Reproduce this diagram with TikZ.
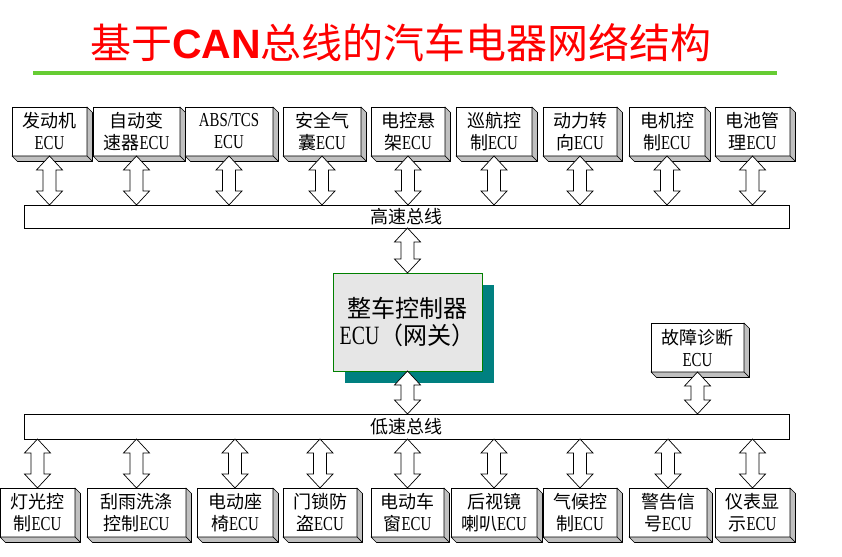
\documentclass[tikz,border=0pt]{standalone}
\usepackage{fontspec}
\setmainfont{Liberation Serif}[FakeStretch=0.75, Scale=1.1]
\newfontfamily\cjk{Noto Sans CJK SC}
\newfontfamily\titlelat{Liberation Sans}
\usetikzlibrary{calc}
\definecolor{bevelgray}{HTML}{C0C0C0}
\definecolor{titlered}{HTML}{FF0000}
\definecolor{rulegreen}{HTML}{66CC33}
\definecolor{cboxgreen}{HTML}{008000}
\definecolor{cboxfill}{HTML}{E6E6E6}
\definecolor{cboxshadow}{HTML}{008080}
\newcommand\zh[1]{{\cjk #1}}
\newcommand\mkbevel[1]{%
  \path[bevelface] (#1.north east) -- ++(5.5pt,-5.5pt) -- ($(#1.south east)+(5.5pt,-5.5pt)$) -- (#1.south east) -- cycle;
  \path[bevelface] (#1.south west) -- ($(#1.south west)+(5.5pt,-5.5pt)$) -- ($(#1.south east)+(5.5pt,-5.5pt)$) -- (#1.south east) -- cycle;}
\newcommand\mkdblarrow[2]{%
  \path[dbl] let \p1=(#1), \p2=(#2) in
  (\x1,\y1) -- (\x1+13pt,\y1-14pt) -- (\x1+6.5pt,\y1-14pt) -- (\x1+6.5pt,\y2+14pt) -- (\x1+13pt,\y2+14pt) -- (\x1,\y2)
  -- (\x1-13pt,\y2+14pt) -- (\x1-6.5pt,\y2+14pt) -- (\x1-6.5pt,\y1-14pt) -- (\x1-13pt,\y1-14pt) -- cycle;}
\begin{document}
\begin{tikzpicture}[x=1pt,y=-1pt,
  ecu/.style={draw=black, fill=white, line width=0.8pt, inner sep=0pt, outer sep=0pt,
    minimum height=49pt, align=center, font=\fontsize{18}{22}\selectfont},
  bus/.style={draw=black, fill=white, line width=0.8pt, inner sep=0pt, outer sep=0pt,
    minimum width=765pt, font=\fontsize{18}{22}\selectfont},
  bevelface/.style={draw=black, fill=bevelgray, line width=0.6pt, line join=round},
  dbl/.style={draw=black, fill=white, line width=0.7pt, line join=miter},
]
\useasboundingbox[fill=white] (0,0) rectangle (842,556);

% title
\node[text=titlered, font=\fontsize{41}{46}\selectfont, inner sep=0pt] (title) at (401,43)
  {\zh{基于}{\titlelat\bfseries CAN}\zh{总线的汽车电器网络结构}};
\draw[rulegreen, line width=4pt] (33,73) -- (777,73);

% buses
\node[bus, minimum height=23pt] (hbus) at (406.5,216.5) {\zh{高速总线}};
\node[bus, minimum height=25pt] (lbus) at (406.5,426.5) {\zh{低速总线}};

% top ECUs
\node[ecu, minimum width=75pt] (t1) at (49.5,131.5) {\zh{发动机}\\ECU};
\node[ecu, minimum width=87pt] (t2) at (136.5,131.5) {\zh{自动变}\\\zh{速器}ECU};
\node[ecu, minimum width=88pt] (t3) at (229,131.5) {ABS/TCS\\ECU};
\node[ecu, minimum width=78pt] (t4) at (322,131.5) {\zh{安全气}\\\zh{囊}ECU};
\node[ecu, minimum width=74pt] (t5) at (408,131.5) {\zh{电控悬}\\\zh{架}ECU};
\node[ecu, minimum width=76pt] (t6) at (494,131.5) {\zh{巡航控}\\\zh{制}ECU};
\node[ecu, minimum width=74pt] (t7) at (580,131.5) {\zh{动力转}\\\zh{向}ECU};
\node[ecu, minimum width=76pt] (t8) at (667,131.5) {\zh{电机控}\\\zh{制}ECU};
\node[ecu, minimum width=75pt] (t9) at (752.5,131.5) {\zh{电池管}\\\zh{理}ECU};

% bottom ECUs
\node[ecu, minimum width=75pt] (b1) at (37.5,512.5) {\zh{灯光控}\\\zh{制}ECU};
\node[ecu, minimum width=99pt] (b2) at (136.5,512.5) {\zh{刮雨洗涤}\\\zh{控制}ECU};
\node[ecu, minimum width=76pt] (b3) at (235,512.5) {\zh{电动座}\\\zh{椅}ECU};
\node[ecu, minimum width=74pt] (b4) at (320,512.5) {\zh{门锁防}\\\zh{盗}ECU};
\node[ecu, minimum width=73pt] (b5) at (407.5,512.5) {\zh{电动车}\\\zh{窗}ECU};
\node[ecu, minimum width=86pt] (b6) at (494,512.5) {\zh{后视镜}\\\zh{喇叭}ECU};
\node[ecu, minimum width=74pt] (b7) at (580,512.5) {\zh{气候控}\\\zh{制}ECU};
\node[ecu, minimum width=78pt] (b8) at (668,512.5) {\zh{警告信}\\\zh{号}ECU};
\node[ecu, minimum width=75pt] (b9) at (752.5,512.5) {\zh{仪表显}\\\zh{示}ECU};

% diagnostic ECU
\node[ecu, minimum width=93pt] (diag) at (697.5,347.5) {\zh{故障诊断}\\ECU};

% central controller
\fill[cboxshadow] (345,285) rectangle (494,383);
\node[draw=cboxgreen, fill=cboxfill, line width=0.9pt, inner sep=0pt, outer sep=0pt,
  minimum width=149pt, minimum height=98pt, align=center,
  font=\fontsize{24}{27}\selectfont] (cbox) at (407.5,322) {\zh{整车控制器}\\ECU\zh{（网关）}};

% bevels
\foreach \nm in {t1,t2,t3,t4,t5,t6,t7,t8,t9,b1,b2,b3,b4,b5,b6,b7,b8,b9,diag} {\mkbevel{\nm}}

% connectors
\foreach \nm in {t1,t2,t3,t4,t5,t6,t7,t8,t9} {\mkdblarrow{\nm.south}{\nm.south |- hbus.north}}
\foreach \nm in {b1,b2,b3,b4,b5,b6,b7,b8,b9} {\mkdblarrow{\nm.north |- lbus.south}{\nm.north}}
\mkdblarrow{cbox.north |- hbus.south}{cbox.north}
\mkdblarrow{cbox.south}{cbox.south |- lbus.north}
\mkdblarrow{diag.south}{diag.south |- lbus.north}
\end{tikzpicture}
\end{document}
